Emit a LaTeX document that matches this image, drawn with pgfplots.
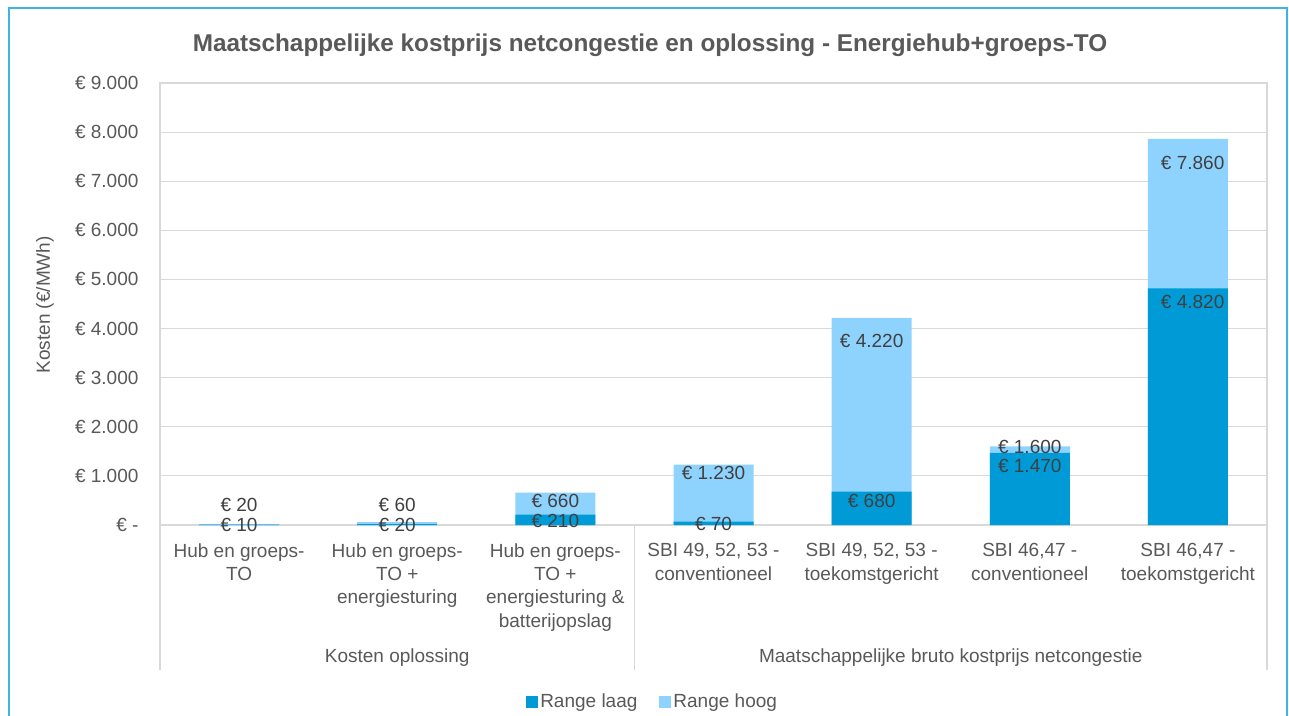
\documentclass[border=0pt]{standalone}
\usepackage{fontspec}
\setmainfont{Liberation Sans}
\usepackage{pgfplots}
\pgfplotsset{compat=1.18}
\usetikzlibrary{calc}
\definecolor{laag}{HTML}{009BD6}
\definecolor{hoog}{HTML}{8ED3FE}
\definecolor{gridc}{HTML}{D9D9D9}
\definecolor{txt}{HTML}{595959}
\definecolor{lbl}{HTML}{404040}
\definecolor{framec}{HTML}{3CB4E5}
\newcommand{\fs}{\fontsize{19}{23.3}\selectfont}

\begin{document}
\begin{tikzpicture}[x=1pt,y=1pt]
\path[use as bounding box] (0,0) rectangle (1289,715);
\fill[white] (0,0) rectangle (1289,715);
% outer frame of the slide
\draw[framec,line width=1.5pt] (9,-5) -- (9,707) -- (1287,707) -- (1287,-5);

\begin{axis}[
    at={(160pt,190pt)}, anchor=south west,
    width=1107pt, height=442pt, scale only axis,
    clip=false,
    xmin=-0.5, xmax=6.5, ymin=0, ymax=9000,
    axis line style={gridc,line width=1.2pt},
    major tick length=0pt,
    ymajorgrids, grid style={gridc,line width=1.2pt},
    ytick={0,1000,...,9000},
    yticklabels={€ -\hspace{13pt},€ 1.000,€ 2.000,€ 3.000,€ 4.000,€ 5.000,€ 6.000,€ 7.000,€ 8.000,€ 9.000},
    yticklabel style={font=\fs,text=txt,anchor=east,xshift=-18pt},
    /pgf/number format/assume math mode=true,
    xtick={0,...,6},
    xticklabels={
      {Hub en groeps-\\TO},
      {Hub en groeps-\\TO +\\energiesturing},
      {Hub en groeps-\\TO +\\energiesturing \&\\batterijopslag},
      {SBI 49, 52, 53 -\\conventioneel},
      {SBI 49, 52, 53 -\\toekomstgericht},
      {SBI 46,47 -\\conventioneel},
      {SBI 46,47 -\\toekomstgericht}},
    xticklabel style={font=\fs,text=txt,align=center,anchor=north,yshift=-15pt},
    ylabel={Kosten (€/MWh)},
    ylabel style={font=\fs,text=txt,at={(axis description cs:-0.104,0.498)},anchor=center},
    title={Maatschappelijke kostprijs netcongestie en oplossing - Energiehub+groeps-TO},
    title style={font=\fontsize{24.3}{28}\selectfont\bfseries,text=txt,
                 at={(axis description cs:0.4426,1.072)},anchor=center},
    legend columns=2,
    legend style={at={(axis description cs:0.445,-0.40)},anchor=center,
                  draw=none,fill=none,font=\fs,text=txt,
                  /tikz/every even column/.append style={column sep=20pt}},
    legend image code/.code={\fill[#1] (0pt,-6pt) rectangle (12pt,6pt);},
]
\addlegendimage{fill=laag,draw=none}
\addlegendentry{Range laag}
\addlegendimage{fill=hoog,draw=none}
\addlegendentry{Range hoog}

% Range hoog (behind)
\addplot[ybar,bar width=80pt,bar shift=0pt,fill=hoog,draw=none,forget plot]
coordinates {(0,20) (1,60) (2,660) (3,1230) (4,4220) (5,1600) (6,7860)};
% Range laag (in front)
\addplot[ybar,bar width=80pt,bar shift=0pt,fill=laag,draw=none,forget plot]
coordinates {(0,10) (1,20) (2,210) (3,70) (4,680) (5,1470) (6,4820)};

% data labels
\begin{scope}[every node/.style={font=\fs,text=lbl,inner sep=0pt}]
\node at (axis cs:0,407)  {€ 20};
\node at (axis cs:0,0)    {€ 10};
\node at (axis cs:1,407)  {€ 60};
\node at (axis cs:1,0)    {€ 20};
\node at (axis cs:2,489)  {€ 660};
\node at (axis cs:2,81)   {€ 210};
\node at (axis cs:3,1059) {€ 1.230};
\node at (axis cs:3,20)   {€ 70};
\node at (axis cs:4,3747) {€ 4.220};
\node at (axis cs:4,489)  {€ 680};
\node at (axis cs:5,1588) {€ 1.600};
\node at (axis cs:5,1201) {€ 1.470};
\node at (axis cs:6.03,7371) {€ 7.860};
\node at (axis cs:6.03,4541) {€ 4.820};
\end{scope}

% group separators and group labels
\draw[gridc,line width=1.2pt] (axis cs:-0.5,0) -- ($(axis cs:-0.5,0)+(0pt,-145pt)$);
\draw[gridc,line width=1.2pt] (axis cs:2.5,0) -- ($(axis cs:2.5,0)+(0pt,-145pt)$);
\draw[gridc,line width=1.2pt] (axis cs:6.5,0) -- ($(axis cs:6.5,0)+(0pt,-145pt)$);
\node[font=\fs,text=txt] at ($(axis cs:1,0)+(0pt,-133pt)$) {Kosten oplossing};
\node[font=\fs,text=txt] at ($(axis cs:4.5,0)+(0pt,-133pt)$) {Maatschappelijke bruto kostprijs netcongestie};
\end{axis}
\end{tikzpicture}
\end{document}
